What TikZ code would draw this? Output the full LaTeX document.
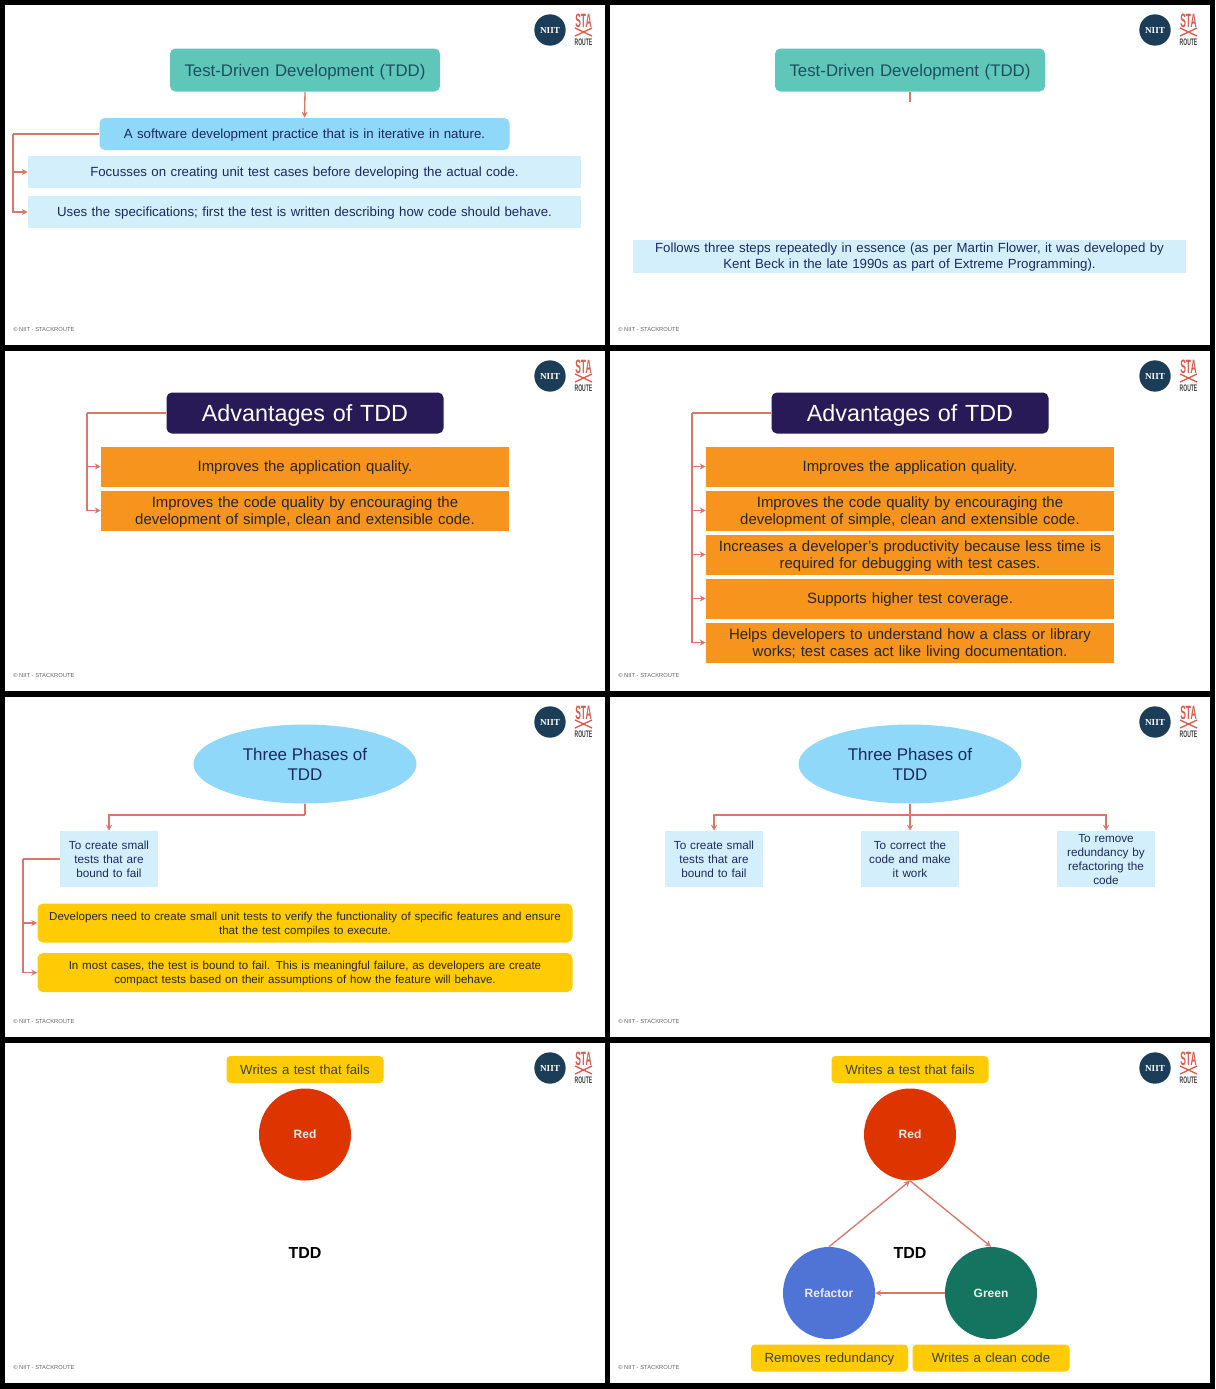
\documentclass[tikz,border=0pt]{standalone}
\usepackage{fontspec}
\setmainfont{Liberation Sans}
\newfontfamily\logoserif{Liberation Serif}
\usetikzlibrary{arrows.meta,shapes.geometric,calc}
\definecolor{navytext}{HTML}{1B2A5C}
\definecolor{teal1}{HTML}{5FC6BA}
\definecolor{teal2}{HTML}{1F4F5F}
\definecolor{sky}{HTML}{8FD8FA}
\definecolor{pale}{HTML}{D3EFFC}
\definecolor{conn}{HTML}{D9776B}
\definecolor{darkpurple}{HTML}{271A57}
\definecolor{orange1}{HTML}{F7941E}
\definecolor{yellow1}{HTML}{FFCB05}
\definecolor{redc}{HTML}{DE3500}
\definecolor{bluec}{HTML}{5073D6}
\definecolor{greenc}{HTML}{14745F}
\definecolor{logoblue}{HTML}{1C3D57}
\definecolor{logored}{HTML}{DD5B4C}
\tikzset{
  x=0.75pt,y=-0.75pt,
  panel/.style={fill=white,draw=none},
  arr/.style={draw=conn,line width=1pt,-{Stealth[length=4.5pt,width=4.5pt]}},
  lin/.style={draw=conn,line width=1pt},
  boxbase/.style={inner sep=0pt,align=center,text=navytext,text depth=0pt},
  tealbox/.style={boxbase,fill=teal1,rounded corners=4pt,text=teal2,font=\fontsize{12.6}{16}\selectfont},
  skybox/.style={boxbase,fill=sky,rounded corners=4pt,font=\fontsize{9.95}{12}\selectfont},
  palebox/.style={boxbase,fill=pale,font=\fontsize{9.95}{12}\selectfont},
  palebox two/.style={palebox,text depth=12pt},
  smallbox/.style={boxbase,fill=pale,font=\fontsize{8.8}{10.5}\selectfont},
  smallbox three/.style={smallbox,text depth=21pt},
  smallbox four/.style={smallbox,text depth=31.5pt},
  purplebox/.style={boxbase,fill=darkpurple,rounded corners=4pt,text=white,font=\fontsize{17.5}{22}\selectfont},
  orangebox/.style={boxbase,fill=orange1,text=black!85,font=\fontsize{11.2}{13}\selectfont},
  orangebox two/.style={orangebox,text depth=13pt},
  yellowbox/.style={boxbase,fill=yellow1,rounded corners=4pt,text=black!85,text depth=10.5pt,font=\fontsize{8.65}{10.5}\selectfont},
  taglabel/.style={boxbase,fill=yellow1,rounded corners=3pt,text=black!75,font=\fontsize{9.95}{12}\selectfont},
  oval/.style={ellipse,inner sep=0pt,fill=sky,align=center,text=navytext,font=\fontsize{12.7}{15}\selectfont},
  disc/.style={circle,inner sep=0pt,text=white!92!black,font=\bfseries\fontsize{9}{11}\selectfont},
  centre/.style={inner sep=0pt,font=\bfseries\fontsize{12}{14}\selectfont},
  foot/.style={inner sep=0pt,anchor=west,text=black!60,font=\fontsize{4.35}{5}\selectfont},
  logoc/.style={circle,fill=logoblue,inner sep=0pt,text=white,font=\logoserif\bfseries\fontsize{6.9}{7}\selectfont},
  logot/.style={inner sep=0pt,text=logored,font=\bfseries\fontsize{8.5}{8}\selectfont},
  logor/.style={inner sep=0pt,text=black!75,font=\bfseries\fontsize{4.2}{5}\selectfont}
}
\newcommand{\bx}[7]{\node[#6,minimum width=#4*0.75pt,minimum height=#5*0.75pt,text width=#4*0.75pt] (#1) at (#2,#3) {#7};}
\newcommand{\chrome}[3]{%
  \fill[panel] (#2,#3) rectangle ++(600,340);
  \node[logoc,minimum size=23.5pt] (logo#1) at ($(#2,#3)+(545,25)$) {NIIT};
  \node[logot] (sta#1) at ($(#2,#3)+(578.5,15.5)$) {\scalebox{0.75}[1.7]{STA}};
  \draw[logored,line width=1pt] ($(#2,#3)+(570,23)$) -- ($(#2,#3)+(587,31)$) ($(#2,#3)+(587,23)$) -- ($(#2,#3)+(570,31)$);
  \node[logor] (route#1) at ($(#2,#3)+(578.5,37)$) {\scalebox{0.9}[1.7]{ROUTE}};
  \node[foot] (foot#1) at ($(#2,#3)+(8,324.5)$) {© NIIT - STACKROUTE};
}
\begin{document}
\begin{tikzpicture}
\useasboundingbox (0,0) rectangle (1215,1389);
\fill[black] (0,0) rectangle (1215,1389);
\chrome{a}{5}{5}\chrome{b}{610}{5}
\chrome{c}{5}{351}\chrome{d}{610}{351}
\chrome{e}{5}{697}\chrome{f}{610}{697}
\chrome{g}{5}{1043}\chrome{h}{610}{1043}
% panel 1
\bx{t1}{305}{70}{270}{43}{tealbox}{Test-Driven Development (TDD)}
\bx{a1}{304.5}{134}{410}{32}{skybox}{A software development practice that is in iterative in nature.}
\bx{a2}{304.5}{172}{553}{32}{palebox}{Focusses on creating unit test cases before developing the actual code.}
\bx{a3}{304.5}{212}{553}{32}{palebox}{Uses the specifications; first the test is written describing how code should behave.}
\coordinate (ta) at (13,134);
\draw[arr] (t1.south) -- (a1.north);
\draw[lin] (a1.west) -- (ta);
\draw[arr] (ta) |- (a2.west);
\draw[arr] (ta) |- (a3.west);
% panel 2
\bx{t2}{910}{70}{270}{43}{tealbox}{Test-Driven Development (TDD)}
\coordinate (stub) at (910,102);
\draw[lin] (t2.south) -- (stub);
\bx{b1}{909.5}{256}{553}{33}{palebox two}{Follows three steps repeatedly in essence (as per Martin Flower, it was developed by\\Kent Beck in the late 1990s as part of Extreme Programming).}
% panel 3
\bx{t3}{305}{413}{277}{41}{purplebox}{Advantages of TDD}
\bx{c1}{305}{466.5}{408}{40}{orangebox}{Improves the application quality.}
\bx{c2}{305}{510.5}{408}{40}{orangebox two}{Improves the code quality by encouraging the\\development of simple, clean and extensible code.}
\coordinate (tc) at (87,413);
\draw[lin] (t3.west) -- (tc);
\draw[arr] (tc) |- (c1.west);
\draw[arr] (tc) |- (c2.west);
% panel 4
\bx{t4}{910}{413}{277}{41}{purplebox}{Advantages of TDD}
\bx{d1}{910}{466.5}{408}{40}{orangebox}{Improves the application quality.}
\bx{d2}{910}{510.5}{408}{40}{orangebox two}{Improves the code quality by encouraging the\\development of simple, clean and extensible code.}
\bx{d3}{910}{554.5}{408}{40}{orangebox two}{Increases a developer’s productivity because less time is\\required for debugging with test cases.}
\bx{d4}{910}{598.5}{408}{40}{orangebox}{Supports higher test coverage.}
\bx{d5}{910}{642.5}{408}{40}{orangebox two}{Helps developers to understand how a class or library\\works; test cases act like living documentation.}
\coordinate (td) at (692,413);
\draw[lin] (t4.west) -- (td);
\foreach \n in {d1,d2,d3,d4,d5}{\draw[arr] (td) |- (\n.west);}
% panel 5
\node[oval,minimum width=223*0.75pt,minimum height=79*0.75pt] (o5) at (305,764) {Three Phases of\\TDD};
\bx{e1}{109}{859}{98}{56}{smallbox three}{To create small\\tests that are\\bound to fail}
\bx{e2}{305}{923}{535}{39}{yellowbox}{Developers need to create small unit tests to verify the functionality of specific features and ensure\\that the test compiles to execute.}
\bx{e3}{305}{972.5}{535}{39}{yellowbox}{In most cases, the test is bound to fail. This is meaningful failure, as developers are create\\compact tests based on their assumptions of how the feature will behave.}
\coordinate (be) at (305,815);
\coordinate (te) at (23,859);
\draw[lin] (o5.south) -- (be);
\draw[arr] (be) -| (e1.north);
\draw[lin] (e1.west) -- (te);
\draw[arr] (te) |- (e2.west);
\draw[arr] (te) |- (e3.west);
% panel 6
\node[oval,minimum width=223*0.75pt,minimum height=79*0.75pt] (o6) at (910,764) {Three Phases of\\TDD};
\bx{f1}{714}{859}{98}{56}{smallbox three}{To create small\\tests that are\\bound to fail}
\bx{f2}{910}{859}{98}{56}{smallbox three}{To correct the\\code and make\\it work}
\bx{f3}{1106}{859}{98}{56}{smallbox four}{To remove\\redundancy by\\refactoring the\\code}
\coordinate (bf) at (910,815);
\draw[arr] (o6.south) -- (f2.north);
\draw[arr] (bf) -| (f1.north);
\draw[arr] (bf) -| (f3.north);
% panel 7
\bx{g0}{305}{1069.5}{157}{27}{taglabel}{Writes a test that fails}
\node[disc,fill=redc,minimum size=92*0.75pt] (g1) at (305,1134.5) {Red};
\node[centre] (g2) at (305,1253) {TDD};
% panel 8
\bx{h0}{910}{1069.5}{157}{27}{taglabel}{Writes a test that fails}
\node[disc,fill=redc,minimum size=92*0.75pt] (h1) at (910,1134.5) {Red};
\node[centre] (h2) at (910,1253) {TDD};
\node[disc,fill=bluec,minimum size=92*0.75pt] (h3) at (829,1293) {Refactor};
\node[disc,fill=greenc,minimum size=92*0.75pt] (h4) at (991,1293) {Green};
\bx{h5}{829.5}{1358}{157}{27}{taglabel}{Removes redundancy}
\bx{h6}{991}{1358}{157}{27}{taglabel}{Writes a clean code}
\draw[arr] (h1.south) -- (h4.north);
\draw[arr] (h4.west) -- (h3.east);
\draw[arr] (h3.north) -- (h1.south);
\end{tikzpicture}
\end{document}
